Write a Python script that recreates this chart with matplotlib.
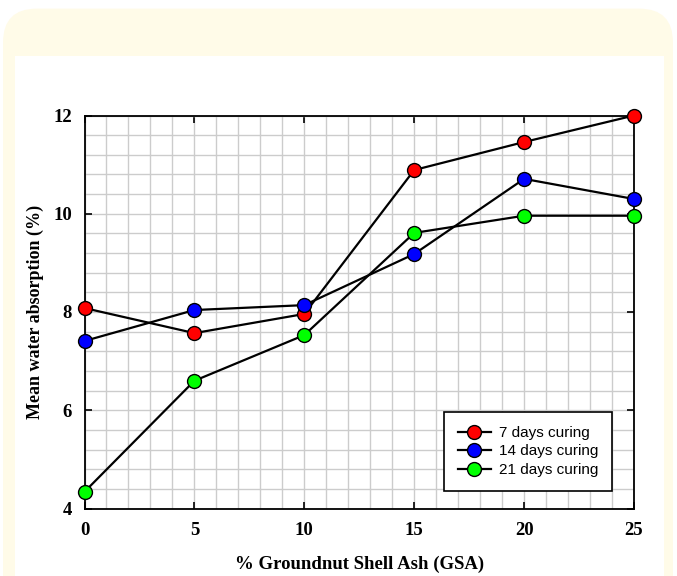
import matplotlib.pyplot as plt
from matplotlib.patches import FancyBboxPatch, Rectangle
from matplotlib.ticker import MultipleLocator

gsa = [0, 5, 10, 15, 20, 25]
days7 = [8.08, 7.57, 7.96, 10.89, 11.46, 12.0]
days14 = [7.41, 8.04, 8.14, 9.18, 10.71, 10.30]
days21 = [4.34, 6.60, 7.53, 9.61, 9.96, 9.96]
labels = ['7 days curing', '14 days curing', '21 days curing']
colors = ['#ff0000', '#0000ff', '#00ff00']

W, H = 677, 576
fig = plt.figure(figsize=(W / 100, H / 100), dpi=100)

# yellow card with white inner panel
fig.patches.append(FancyBboxPatch((3 / W, -0.1), 670 / W, (565 + 60) / H,
                                  boxstyle='round,pad=0,rounding_size=0.05',
                                  transform=fig.transFigure, fc='#fffbe8', ec='none',
                                  mutation_aspect=W / H, zorder=-2))
fig.patches.append(Rectangle((15 / W, 0), 649 / W, (576 - 56) / H,
                             transform=fig.transFigure, fc='white', ec='none', zorder=-1))

ax = fig.add_axes([84.5 / W, 67.5 / H, 549.5 / W, 393 / H])
ax.set_facecolor('none')

for ys, lab, c in zip([days7, days14, days21], labels, colors):
    ax.plot(gsa, ys, '-o', color='black', lw=1.6, mfc=c, mec='black', mew=1,
            ms=10, label=lab, clip_on=False, zorder=5)

ax.set_xlim(0, 25)
ax.set_ylim(4, 12)
ax.xaxis.set_major_locator(MultipleLocator(5))
ax.xaxis.set_minor_locator(MultipleLocator(1))
ax.yaxis.set_major_locator(MultipleLocator(2))
ax.yaxis.set_minor_locator(MultipleLocator(0.4))
ax.grid(which='both', color='#cccccc', lw=1)
ax.set_axisbelow(True)
ax.tick_params(which='major', direction='in', length=5, width=1.2, top=True, right=True,
               labelsize=13.5)
ax.tick_params(axis='x', pad=10)
ax.tick_params(axis='y', pad=9)
ax.tick_params(which='minor', length=0)
for lb in ax.get_xticklabels() + ax.get_yticklabels():
    lb.set_fontfamily('Liberation Serif')
    lb.set_fontweight('bold')
for s in ax.spines.values():
    s.set_linewidth(1.3)

ax.set_xlabel('% Groundnut Shell Ash (GSA)', family='Liberation Serif', weight='bold',
              fontsize=13.5, labelpad=12)
ax.set_ylabel('Mean water absorption (%)', family='Liberation Serif', weight='bold',
              fontsize=13, labelpad=7)

leg = ax.legend(loc='lower right', bbox_to_anchor=(0.96, 0.045), borderaxespad=0,
                fancybox=False, framealpha=1, edgecolor='black',
                prop={'family': 'Liberation Sans', 'size': 11},
                handlelength=2.2, handletextpad=0.5, labelspacing=0.3, borderpad=0.9)
leg.get_frame().set_linewidth(1.2)
leg.set_zorder(10)

fig.savefig('out.png', dpi=100)
